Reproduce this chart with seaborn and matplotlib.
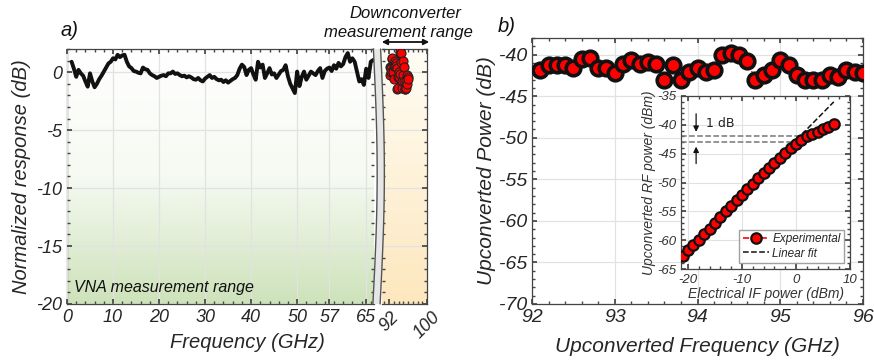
import numpy as np
import pandas as pd
import matplotlib
matplotlib.use("Agg")
import matplotlib.pyplot as plt
import seaborn as sns
from matplotlib.colors import LinearSegmentedColormap
from matplotlib.ticker import MultipleLocator, FixedLocator
from matplotlib.patches import Polygon

# ---------------- data ----------------
# Panel a: VNA normalized response (dB), sampled every 0.5 GHz from 1.0 GHz
vna_resp = [0.9, 0.3, -0.4, 0.2, -0.1, -0.3, -0.8, -1.25, -0.1, -0.8, -1.3, -1.0, -0.6, -0.3,
            0.05, 0.4, 0.75, 0.9, 1.2, 1.1, 1.5, 1.3, 1.45, 1.5, 0.9, 0.5, 0.35, 0.1, 0.05,
            -0.05, -0.1, 0.4, 0.25, 0.2, -0.1, -0.25, -0.35, -0.5, -0.4, -0.3, -0.25, -0.35,
            -0.1, -0.1, 0.05, -0.15, -0.1, -0.25, -0.35, -0.3, -0.45, -0.35, -0.45, -0.6,
            -0.65, -0.5, -0.7, -0.8, -0.55, -0.4, -0.25, -0.5, -0.4, -0.6, -0.7, -0.65, -0.85,
            -0.7, -0.9, -0.75, -0.6, -0.5, -0.25, 0.3, 0.65, 0.45, -0.25, 0.2, 0.35, -0.2,
            -0.65, 0.9, 0.4, 0.65, -0.5, -0.1, 0.35, -0.2, -0.1, -0.5, -0.2, 0.1, 0.2, 0.6,
            -0.35, -1.0, -1.4, -1.8, 0.05, -1.2, -0.4, 0.05, -0.65, -0.3, 0.05, -0.1, -0.25,
            0.1, 0.35, -0.5, 0.1, 0.3, 0.4, 0.1, 0.6, 0.3, 0.8, 0.5, 0.7, 1.3, 1.65, 0.9,
            1.2, 0.9, 0.05, -0.8, -0.6, -1.1, 0.3, -0.5, 0.9, 1.05]
vna_freq = 1.0 + 0.5 * np.arange(len(vna_resp))

# Panel b: upconverted power vs frequency
up_freq = [92.1, 92.2, 92.3, 92.4, 92.5, 92.6, 92.7, 92.8, 92.9, 93.0,
           93.1, 93.2, 93.3, 93.4, 93.5, 93.6, 93.7, 93.8, 93.9, 94.0,
           94.1, 94.2, 94.3, 94.4, 94.5, 94.6, 94.7, 94.8, 94.9, 95.0,
           95.1, 95.2, 95.3, 95.4, 95.5, 95.6, 95.7, 95.8, 95.9, 96.0]
up_power = [-41.9, -41.2, -41.2, -41.3, -41.6, -40.5, -40.4, -41.6, -41.6, -42.2,
            -41.1, -40.7, -41.1, -40.9, -41.1, -43.1, -41.3, -43.0, -42.1, -41.6,
            -42.1, -41.8, -40.0, -39.8, -40.0, -40.8, -43.0, -42.4, -41.9, -40.7,
            -41.2, -42.4, -43.1, -43.1, -43.0, -42.4, -42.7, -41.9, -42.1, -42.2]

# Inset: RF power vs IF power
if_power = [-21, -20, -19, -18, -17, -16, -15, -14, -13, -12, -11, -10, -9, -8, -7,
            -6, -5, -4, -3, -2, -1, 0, 1, 2, 3, 4, 5, 6, 7]
rf_power = [-62.7, -61.7, -60.8, -59.9, -58.9, -58.0, -57.0, -55.9, -55.0, -54.0,
            -53.1, -52.1, -51.2, -50.2, -49.3, -48.4, -47.5, -46.7, -45.8, -44.9,
            -44.1, -43.3, -42.6, -42.0, -41.6, -41.2, -40.8, -40.3, -39.8]

a_xticks = [0, 10, 20, 30, 40, 50, 57, 65]
a2_xticks = [92, 100]

# ---------------- style ----------------
sns.set_theme(style="ticks")
plt.rcParams['font.family'] = ['Liberation Sans', 'DejaVu Sans']
plt.rcParams['font.style'] = 'italic'
plt.rcParams['axes.unicode_minus'] = False
TXT = '#262626'
GRID = '#e2e2e2'
SPINE = '#444444'

fig = plt.figure(figsize=(8.74, 3.64), dpi=100)
W, H = 874.0, 364.0

def box(x0, ytop, x1, ybot):
    return [x0 / W, (H - ybot) / H, (x1 - x0) / W, (ybot - ytop) / H]

ax_a = fig.add_axes(box(67, 49, 374, 304))
ax_a2 = fig.add_axes(box(382, 49, 427, 304))
ax_b = fig.add_axes(box(532, 38, 863, 304))
ax_in = fig.add_axes(box(681, 96, 850, 269))

def style_axis(ax, fs):
    for s in ax.spines.values():
        s.set_color(SPINE)
        s.set_linewidth(0.9)
    ax.tick_params(which='both', direction='in', top=True, right=True,
                   colors=SPINE, labelcolor=TXT, labelsize=fs)
    ax.tick_params(which='major', length=3.5)
    ax.tick_params(which='minor', length=2)

# ---------- panel a (VNA) ----------
green = LinearSegmentedColormap.from_list('g', ['#ffffff', '#f6faf2', '#cde2ba'])
orange = LinearSegmentedColormap.from_list('o', ['#fffdf6', '#fde7bd'])
grad = np.linspace(0, 1, 256)[:, None]
ax_a.imshow(grad, extent=[0, 66.7, -20, 2], origin='upper', aspect='auto', cmap=green, zorder=0)
ax_a2.imshow(grad, extent=[90.5, 100, -20, 2], origin='upper', aspect='auto', cmap=orange, zorder=0)

ax_a.set_xlim(0, 66.7)
ax_a.set_ylim(-20, 2)
ax_a.xaxis.set_major_locator(FixedLocator(a_xticks))
ax_a.xaxis.set_minor_locator(MultipleLocator(2))
ax_a.yaxis.set_major_locator(MultipleLocator(5))
ax_a.yaxis.set_minor_locator(MultipleLocator(1))
ax_a.grid(True, which='major', color=GRID, lw=0.9, zorder=1)
ax_a.set_axisbelow(False)
sns.lineplot(x=vna_freq, y=vna_resp, ax=ax_a, color='#111111', lw=2.8, zorder=3)
style_axis(ax_a, 13)
ax_a.tick_params(right=False)
ax_a.spines['right'].set_visible(False)
ax_a.set_xlabel('')
ax_a.set_ylabel('Normalized response (dB)', fontsize=14.5, color=TXT, labelpad=4)
ax_a.text(1.5, -19.0, 'VNA measurement range', fontsize=11.5, color='#111111', zorder=4)

ax_a2.set_xlim(90.5, 100)
ax_a2.set_ylim(-20, 2)
ax_a2.xaxis.set_major_locator(FixedLocator(a2_xticks))
ax_a2.xaxis.set_minor_locator(MultipleLocator(1))
ax_a2.yaxis.set_major_locator(MultipleLocator(5))
ax_a2.yaxis.set_minor_locator(MultipleLocator(1))
ax_a2.grid(True, which='major', axis='y', color=GRID, lw=0.9)
norm_power = np.array(up_power) - np.mean(up_power)
sns.lineplot(x=up_freq, y=norm_power, ax=ax_a2, color='#333333', lw=0.7,
             linestyle='--', marker='o', markersize=6.5, markerfacecolor='#ff0000',
             markeredgecolor='#222222', markeredgewidth=0.8, sort=False, zorder=3)
style_axis(ax_a2, 13)
ax_a2.tick_params(left=False, labelleft=False)
ax_a2.spines['left'].set_visible(False)
ax_a2.set_yticklabels([])
for lab in ax_a2.get_xticklabels():
    lab.set_rotation(45)
    lab.set_ha('center')
ax_a2.set_xlabel('')
ax_a2.set_ylabel('')

# axis break band
ys = np.linspace(49, 304, 80)
t = (ys - 49) / 255.0
xc = 377.0 + 4.0 * np.sin(np.pi * t) - 0.5 * t
left = np.column_stack([(xc - 3.6) / W, (H - ys) / H])
right = np.column_stack([(xc + 3.6) / W, (H - ys) / H])
band = Polygon(np.vstack([left, right[::-1]]), closed=True, transform=fig.transFigure,
               facecolor='#e6e6e6', edgecolor='none', zorder=5)
fig.add_artist(band)
for edge in (left, right):
    ln = plt.Line2D(edge[:, 0], edge[:, 1], transform=fig.transFigure, color='#555555', lw=1.0)
    ln.set_zorder(6)
    fig.add_artist(ln)

fig.text(247 / W, 1 - 343 / H, 'Frequency (GHz)', fontsize=14.5, color=TXT, ha='center', va='center')
fig.text(70 / W, 1 - 30 / H, 'a)', fontsize=14.5, color='#111111', ha='center', va='center')
fig.text(405 / W, 1 - 13 / H, 'Downconverter', fontsize=12, color='#111111', ha='center', va='center')
fig.text(398 / W, 1 - 32 / H, 'measurement range', fontsize=12, color='#111111', ha='center', va='center')
fig.add_artist(matplotlib.patches.FancyArrowPatch((379 / W, 1 - 42 / H), (432 / W, 1 - 42 / H),
               transform=fig.transFigure, arrowstyle='<|-|>', mutation_scale=8,
               color='#111111', lw=1.3))

# ---------- panel b ----------
df_b = pd.DataFrame({'freq': up_freq, 'power': up_power})
sns.lineplot(data=df_b, x='freq', y='power', ax=ax_b, color='#ff0000', lw=1.0,
             linestyle='--', marker='o', markersize=10.5, markerfacecolor='#ff0000',
             markeredgecolor='#111111', markeredgewidth=2.6, zorder=3)
ax_b.set_xlim(92, 96)
ax_b.set_ylim(-70, -38)
ax_b.xaxis.set_major_locator(MultipleLocator(1))
ax_b.xaxis.set_minor_locator(MultipleLocator(0.2))
ax_b.yaxis.set_major_locator(MultipleLocator(5))
ax_b.yaxis.set_minor_locator(MultipleLocator(1))
ax_b.grid(True, which='major', color=GRID, lw=0.9)
style_axis(ax_b, 14)
ax_b.set_xlabel('Upconverted Frequency (GHz)', fontsize=15, color=TXT, labelpad=8)
ax_b.set_ylabel('Upconverted Power (dB)', fontsize=15, color=TXT, labelpad=2)
fig.text(507 / W, 1 - 27 / H, 'b)', fontsize=14.5, color='#111111', ha='center', va='center')

# ---------- inset ----------
ax_in.set_facecolor('white')
if_arr = np.array(if_power)
rf_arr = np.array(rf_power)
lin = if_arr <= -4
coef = np.polyfit(if_arr[lin], rf_arr[lin], 1)
fit_x = np.array([if_arr.min(), if_arr.max()])
fit_y = np.polyval(coef, fit_x)
sns.lineplot(x=if_power, y=rf_power, ax=ax_in, color='#ff0000', lw=1.2, linestyle='--',
             marker='o', markersize=7.5, markerfacecolor='#ff0000', markeredgecolor='#111111',
             markeredgewidth=1.6, label='Experimental', zorder=3)
sns.lineplot(x=fit_x, y=fit_y, ax=ax_in, color='#111111', lw=1.1, linestyle='--',
             label='Linear fit', zorder=2)
ax_in.hlines([-42, -43], -21.3, [2.0, 0.3], colors='#777777', linestyles='--', lw=1.1, zorder=2)
ax_in.annotate('', xy=(-18.5, -41.7), xytext=(-18.5, -37.6),
               arrowprops=dict(arrowstyle='-|>', color='#111111', lw=0.9, mutation_scale=8))
ax_in.annotate('', xy=(-18.5, -43.3), xytext=(-18.5, -47.2),
               arrowprops=dict(arrowstyle='-|>', color='#111111', lw=0.9, mutation_scale=8))
ax_in.text(-16.7, -39.7, '1 dB', fontsize=9, fontstyle='normal', family='DejaVu Sans',
           color='#222222', va='center')
ax_in.set_xlim(-21.3, 10)
ax_in.set_ylim(-65, -35)
ax_in.xaxis.set_major_locator(MultipleLocator(10))
ax_in.yaxis.set_major_locator(MultipleLocator(5))
ax_in.xaxis.set_minor_locator(MultipleLocator(2))
ax_in.yaxis.set_minor_locator(MultipleLocator(1))
ax_in.grid(True, which='major', color=GRID, lw=0.8)
style_axis(ax_in, 9.5)
ax_in.tick_params(labelcolor='#333333')
ax_in.set_xlabel('Electrical IF power (dBm)', fontsize=10, color='#333333', labelpad=1)
ax_in.set_ylabel('Upconverted RF power (dBm)', fontsize=10, color='#333333', labelpad=1)
leg = ax_in.legend(loc='lower right', fontsize=8.5, frameon=True, fancybox=False,
                   handlelength=2.2, borderpad=0.3, labelspacing=0.2, handletextpad=0.3)
leg.get_frame().set_edgecolor('#888888')
leg.get_frame().set_linewidth(1.0)

fig.savefig('out.png', dpi=100)
